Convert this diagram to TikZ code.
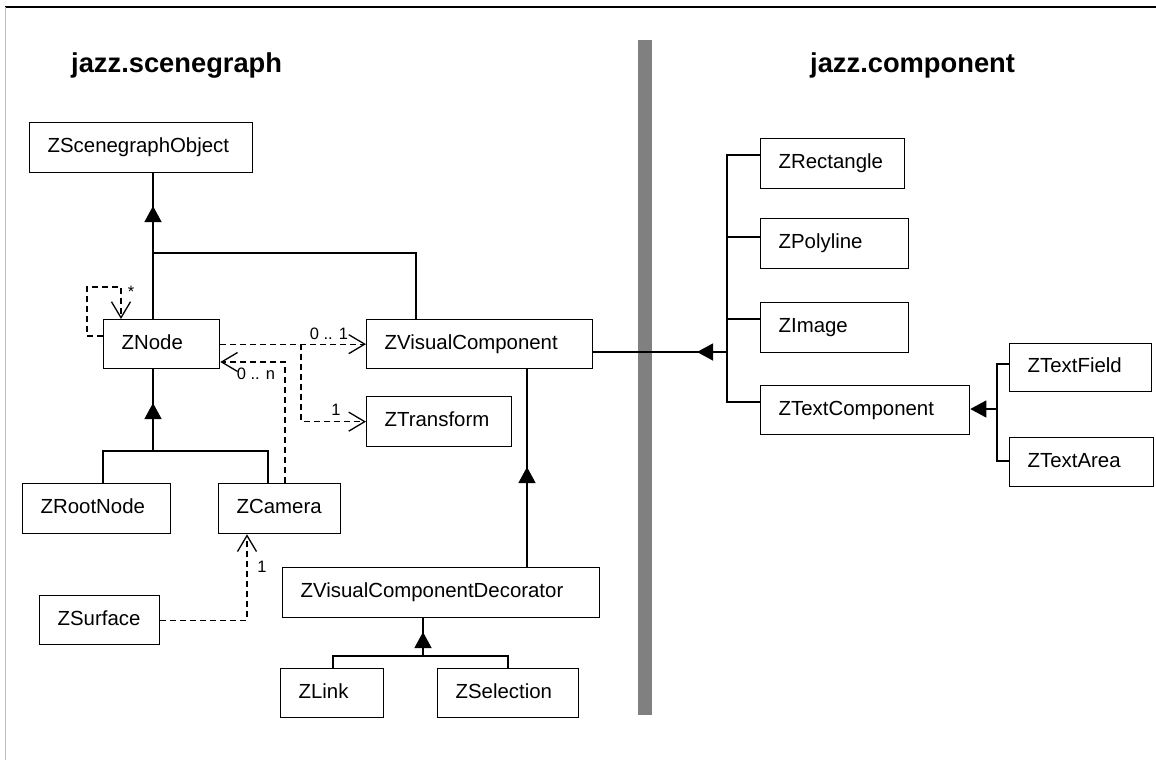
\documentclass[tikz,border=0pt]{standalone}
\usepackage{fontspec}
\setmainfont{Liberation Sans}
\usetikzlibrary{arrows.meta}
\definecolor{barg}{HTML}{808080}
\definecolor{frameg}{HTML}{BDBDBD}
\tikzset{
  cls/.style={draw, line width=1.3pt, anchor=north west, inner xsep=18pt, inner ysep=0pt,
    align=left, font=\fontsize{20.4}{24}\selectfont, text height=14pt, text depth=4.3pt},
  link/.style={line width=1.3pt},
  dep/.style={line width=1.3pt, dash pattern=on 6pt off 4pt,
    -{Straight Barb[length=16pt,width=19pt]}},
  inh/.style={line width=1.3pt, -{Triangle[length=16pt,width=17pt]}},
  mult/.style={font=\fontsize{16.5}{19}\selectfont, inner sep=0pt},
  title/.style={font=\bfseries\fontsize{27.3}{32}\selectfont, anchor=base west, inner sep=0pt},
}
\newcommand\umlbox[6]{%
  \pgfmathsetmacro\umltw{#4-36}%
  \node[cls, minimum height=#5pt, text width=\umltw pt] (#1) at (#2,#3) {#6};}
\begin{document}
\begin{tikzpicture}[x=1pt,y=-1pt]
\useasboundingbox (0,0) rectangle (1156,760);
% frame
\draw[line width=1.3pt] (5,7) -- (1156,7);
\draw[frameg, line width=1pt] (5,7) -- (5,760);
% separator bar
\fill[barg] (638,40) rectangle (652,715);
% titles
\node[title] (t1) at (71,72) {jazz.scenegraph};
\node[title] (t2) at (810,72) {jazz.component};
% classes
\umlbox{ZSO}{29}{122}{223}{50}{ZScenegraphObject}
\umlbox{ZNode}{103}{319}{116}{49}{ZNode}
\umlbox{ZVC}{366}{319}{226}{49}{ZVisualComponent}
\umlbox{ZTransform}{366}{396}{145}{50}{ZTransform}
\umlbox{ZRootNode}{22}{483}{148}{50}{ZRootNode}
\umlbox{ZCamera}{218}{483}{122}{50}{ZCamera}
\umlbox{ZSurface}{39}{595}{120}{49}{ZSurface}
\umlbox{ZVCD}{282}{567}{317}{50}{ZVisualComponentDecorator}
\umlbox{ZLink}{280}{668}{103}{49}{ZLink}
\umlbox{ZSelection}{437}{668}{141}{49}{ZSelection}
\umlbox{ZRectangle}{760}{138}{144}{50}{ZRectangle}
\umlbox{ZPolyline}{760}{218}{148}{50}{ZPolyline}
\umlbox{ZImage}{760}{302}{148}{50}{ZImage}
\umlbox{ZTextComponent}{760}{385}{209}{49}{ZTextComponent}
\umlbox{ZTextField}{1009}{343}{142}{48}{ZTextField}
\umlbox{ZTextArea}{1009}{437}{144}{49}{ZTextArea}
% coordinates
\coordinate (j1) at (153,253);
\coordinate (tp1) at (153,206);
\coordinate (j1b) at (416,253);
\coordinate (j2) at (153,451);
\coordinate (tp2) at (153,403);
\coordinate (r2a) at (103,451);
\coordinate (r2b) at (268,451);
\coordinate (tp3) at (527,467);
\coordinate (j4) at (423,656);
\coordinate (tp4) at (423,632);
\coordinate (l4) at (333,656);
\coordinate (s4) at (508,656);
\coordinate (b1) at (727,155);
\coordinate (b2) at (727,237);
\coordinate (b3) at (727,319);
\coordinate (b4) at (727,402);
\coordinate (b5) at (727,352);
\coordinate (tp5) at (697,352);
\coordinate (c1) at (997,364);
\coordinate (c2) at (997,461);
\coordinate (c3) at (997,409);
% inheritance: ZNode, ZVisualComponent -> ZScenegraphObject
\draw[link] (j1 |- ZNode.north) -- (j1) -- (tp1 |- ZSO.south);
\draw[link] (j1) -- (j1b) -- (j1b |- ZVC.north);
\draw[inh] (j1) -- (tp1);
% ZRootNode, ZCamera -> ZNode
\draw[link] (r2a |- ZRootNode.north) -- (r2a) -- (r2b) -- (r2b |- ZCamera.north);
\draw[link] (j2) -- (j2 |- ZNode.south);
\draw[inh] (j2) -- (tp2);
% ZVisualComponentDecorator -> ZVisualComponent
\draw[link] (tp3 |- ZVCD.north) -- (tp3 |- ZVC.south);
\draw[inh] (tp3 |- ZVCD.north) -- (tp3);
% ZLink, ZSelection -> ZVisualComponentDecorator
\draw[link] (l4 |- ZLink.north) -- (l4) -- (s4) -- (s4 |- ZSelection.north);
\draw[link] (j4) -- (j4 |- ZVCD.south);
\draw[inh] (j4) -- (tp4);
% jazz.component classes -> ZVisualComponent
\draw[link] (b1 -| ZRectangle.west) -- (b1) -- (b4) -- (b4 -| ZTextComponent.west);
\draw[link] (b2) -- (b2 -| ZPolyline.west);
\draw[link] (b3) -- (b3 -| ZImage.west);
\draw[link] (b5) -- (b5 -| ZVC.east);
\draw[inh] (b5) -- (tp5);
% ZTextField, ZTextArea -> ZTextComponent
\draw[link] (c1 -| ZTextField.west) -- (c1) -- (c2) -- (c2 -| ZTextArea.west);
\draw[inh] (c3) -- (c3 -| ZTextComponent.east);
% dependencies
\draw[dep] (ZNode.west |- 0,336) -- (87,336) -- (87,287) -- (121,287) -- (121,0 |- ZNode.north);
\node[mult] (mstar) at (131,292) {*};
\draw[dep] (ZNode.east) -- (ZVC.west);
\node[mult] (m01) at (329,334) {0 .. 1};
\draw[dep] (301,0 |- ZNode.east) -- (301,0 |- ZTransform.west) -- (ZTransform.west);
\node[mult] (m1a) at (336,410) {1};
\draw[dep] (285,0 |- ZCamera.north) -- (285,362) -- (ZNode.east |- 0,362);
\node[mult] (m0n) at (256,374) {0 .. n};
\draw[dep] (ZSurface.east) -- (247,0 |- ZSurface.east) -- (247,0 |- ZCamera.south);
\node[mult] (m1b) at (262,567) {1};
\end{tikzpicture}
\end{document}
